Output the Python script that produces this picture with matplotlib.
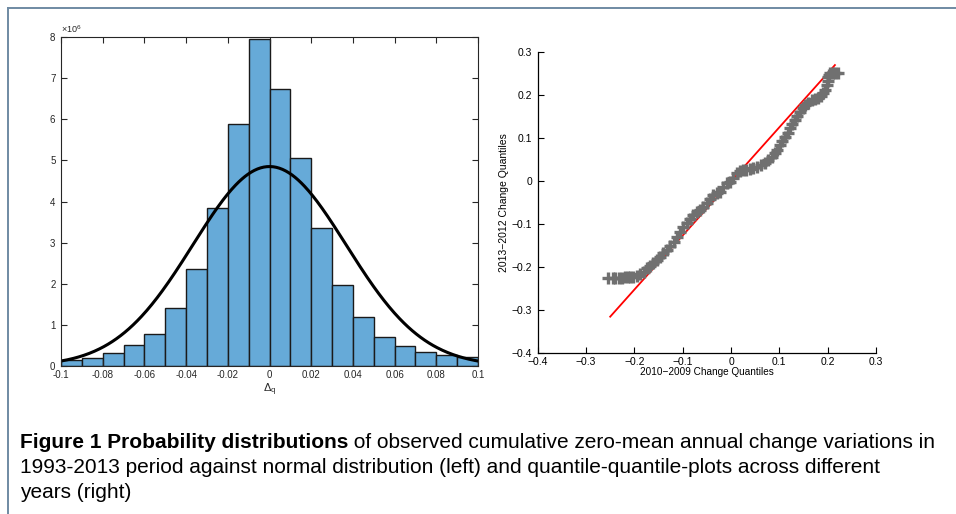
import numpy as np
import matplotlib
matplotlib.use('Agg')
import matplotlib.pyplot as plt
from matplotlib import font_manager
from matplotlib.lines import Line2D

# histogram of zero-mean annual change (bin edges and counts, x1e6)
bin_edges = np.round(np.arange(-0.1, 0.1001, 0.01), 3)
counts = [0.14, 0.20, 0.31, 0.50, 0.79, 1.40, 2.35, 3.85, 5.89, 7.94,
          6.74, 5.05, 3.35, 1.97, 1.18, 0.71, 0.49, 0.35, 0.26, 0.22]

# fitted normal curve parameters
fit_mu = 0.0
fit_sigma = 0.0368
fit_peak = 4.85

# quantile-quantile points: 2010-2009 vs 2013-2012
qq_x = [-0.254, -0.245, -0.240, -0.232, -0.226, -0.220, -0.214, -0.208, -0.202, -0.195,
        -0.188, -0.181, -0.174, -0.167, -0.161, -0.154, -0.147, -0.140, -0.133, -0.126,
        -0.119, -0.112, -0.106, -0.099, -0.092, -0.085, -0.078, -0.071, -0.064, -0.057,
        -0.050, -0.043, -0.037, -0.030, -0.023, -0.016, -0.009, -0.002, 0.005, 0.012,
        0.018, 0.025, 0.032, 0.039, 0.046, 0.054, 0.063, 0.070, 0.077, 0.084,
        0.091, 0.096, 0.101, 0.106, 0.112, 0.117, 0.122, 0.127, 0.132, 0.137,
        0.143, 0.148, 0.153, 0.160, 0.167, 0.174, 0.181, 0.186, 0.191, 0.195,
        0.198, 0.200, 0.201, 0.203, 0.205, 0.210, 0.215, 0.222]
qq_y = [-0.226, -0.226, -0.226, -0.225, -0.225, -0.224, -0.223, -0.223, -0.222, -0.220,
        -0.217, -0.211, -0.203, -0.197, -0.191, -0.184, -0.176, -0.168, -0.160, -0.150,
        -0.141, -0.129, -0.118, -0.108, -0.098, -0.088, -0.079, -0.073, -0.067, -0.060,
        -0.052, -0.043, -0.033, -0.029, -0.025, -0.015, -0.005, -0.002, 0.008, 0.018,
        0.022, 0.025, 0.026, 0.027, 0.029, 0.032, 0.037, 0.042, 0.049, 0.056,
        0.064, 0.073, 0.083, 0.093, 0.103, 0.112, 0.122, 0.132, 0.142, 0.151,
        0.161, 0.169, 0.176, 0.182, 0.188, 0.191, 0.193, 0.197, 0.203, 0.212,
        0.223, 0.232, 0.242, 0.247, 0.250, 0.250, 0.250, 0.250]

# reference line end points
ref_x = [-0.250, 0.215]
ref_y = [-0.315, 0.269]

caption_bold = 'Figure 1 Probability distributions'
caption_rest = ' of observed cumulative zero-mean annual change variations in'
caption_lines = ['1993-2013 period against normal distribution (left) and quantile-quantile-plots across different',
                 'years (right)']

plt.rcParams['font.family'] = ['Liberation Sans', 'DejaVu Sans']
plt.rcParams['mathtext.fontset'] = 'custom'
plt.rcParams['mathtext.rm'] = 'Liberation Sans'
plt.rcParams['mathtext.it'] = 'Liberation Sans'

W, H = 956, 514
fig = plt.figure(figsize=(W / 100, H / 100), dpi=100)

# ---- left: histogram with normal fit
axc = '#262626'
ax1 = fig.add_axes([61 / W, 1 - 366 / H, 417 / W, 329 / H])
widths = np.diff(bin_edges)
ax1.bar(bin_edges[:-1], counts, width=widths, align='edge',
        color='#66aad8', edgecolor='#1a1a1a', linewidth=1.0)
xs = np.linspace(-0.1, 0.1, 400)
ax1.plot(xs, fit_peak * np.exp(-(xs - fit_mu) ** 2 / (2 * fit_sigma ** 2)),
         color='black', linewidth=2.2)
ax1.set_xlim(-0.1, 0.1)
ax1.set_ylim(0, 8)
xt = np.round(np.arange(-0.1, 0.1001, 0.02), 2)
ax1.set_xticks(xt)
ax1.set_xticklabels(['-0.1', '-0.08', '-0.06', '-0.04', '-0.02', '0',
                     '0.02', '0.04', '0.06', '0.08', '0.1'])
ax1.set_yticks(range(9))
ax1.tick_params(direction='in', length=4, width=0.8, labelsize=7,
                colors=axc, labelcolor=axc, top=True, right=True)
ax1.tick_params(axis='x', pad=3)
ax1.tick_params(axis='y', pad=4)
for s in ax1.spines.values():
    s.set_color(axc)
    s.set_linewidth(0.8)
ax1.set_xlabel(r'$\Delta_q$', fontsize=8, color=axc, labelpad=1)
ax1.text(0.0, 1.005, r'$\times 10^{6}$', transform=ax1.transAxes,
         fontsize=6.5, color=axc, ha='left', va='bottom')

# ---- right: qq plot
ax2 = fig.add_axes([537.7 / W, 1 - 353.3 / H, 338.3 / W, 301.6 / H])
ax2.plot(ref_x, ref_y, color='red', linewidth=1.3, zorder=2)
ax2.plot(qq_x, qq_y, linestyle='none', marker='+', markersize=8.5,
         markeredgewidth=2.4, color='#707070', zorder=3)
ax2.set_xlim(-0.4, 0.3)
ax2.set_ylim(-0.4, 0.3)
ticks = np.round(np.arange(-0.4, 0.3001, 0.1), 1)
labels = ['\u22120.4', '\u22120.3', '\u22120.2', '\u22120.1', '0', '0.1', '0.2', '0.3']
ax2.set_xticks(ticks)
ax2.set_xticklabels(labels)
ax2.set_yticks(ticks)
ax2.set_yticklabels(labels)
ax2.tick_params(direction='in', length=4, width=0.8, labelsize=7.5)
ax2.tick_params(axis='x', pad=3)
ax2.tick_params(axis='y', pad=4)
ax2.spines['top'].set_visible(False)
ax2.spines['right'].set_visible(False)
for s in ['left', 'bottom']:
    ax2.spines[s].set_linewidth(0.9)
ax2.set_xlabel('2010\u22122009 Change Quantiles', fontsize=7.2, labelpad=0)
ax2.set_ylabel('2013\u22122012 Change Quantiles', fontsize=7.5, labelpad=2)

# ---- frame lines (left and top)
frame_c = '#6f8aa3'
fig.add_artist(Line2D([7.5 / W, 7.5 / W], [0, 1 - 7.5 / H], color=frame_c,
                      linewidth=1.4, transform=fig.transFigure))
fig.add_artist(Line2D([7.5 / W, 1], [1 - 7.5 / H, 1 - 7.5 / H], color=frame_c,
                      linewidth=1.4, transform=fig.transFigure))

# ---- caption
cap_font = 'Liberation Sans Narrow'
try:
    font_manager.findfont(cap_font, fallback_to_default=False)
except Exception:
    cap_font = 'Liberation Sans'
cap_size = 15
x0 = 20 / W
t1 = fig.text(x0, 1 - 448 / H, caption_bold, fontsize=cap_size, fontweight='bold',
              family=cap_font, ha='left', va='baseline')
fig.canvas.draw()
bb = t1.get_window_extent(fig.canvas.get_renderer())
fig.text(bb.x1 / W, 1 - 448 / H, caption_rest, fontsize=cap_size, family=cap_font,
         ha='left', va='baseline')
for i, line in enumerate(caption_lines):
    fig.text(x0, 1 - (473 + 25 * i) / H, line, fontsize=cap_size, family=cap_font,
             ha='left', va='baseline')

fig.savefig('out.png', dpi=100)
